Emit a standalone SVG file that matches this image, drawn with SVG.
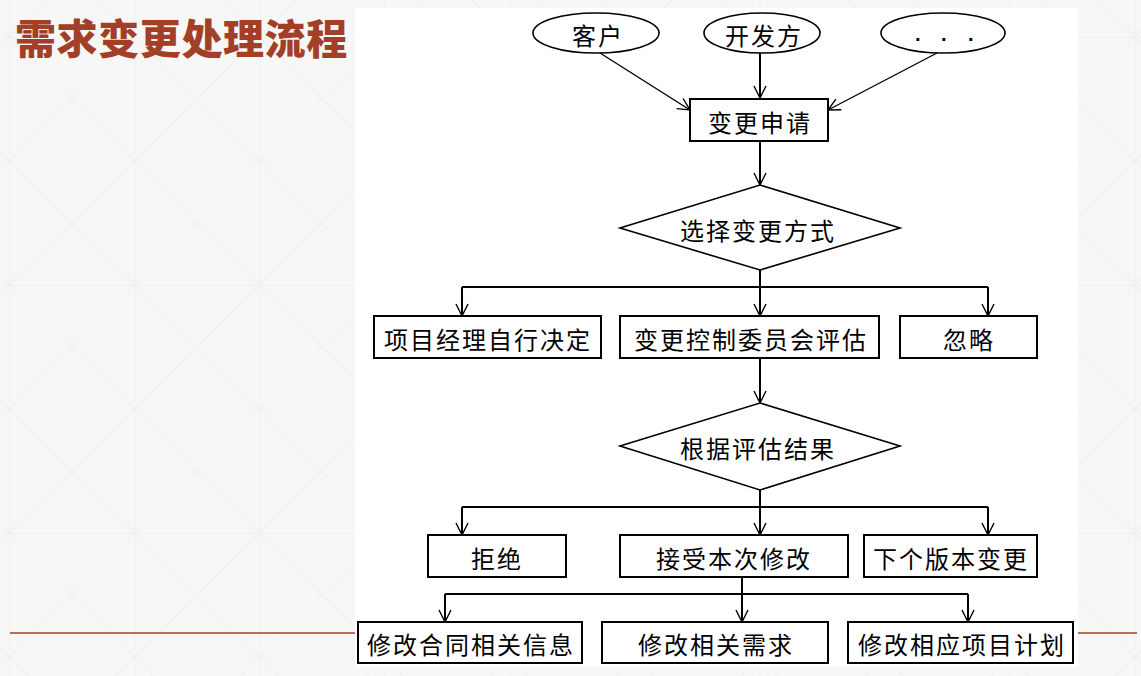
<svg xmlns="http://www.w3.org/2000/svg" width="1141" height="676" viewBox="0 0 1141 676">
<style>
.box{fill:#fff;stroke:#000;stroke-width:2}
.ell{fill:#fff;stroke:#000;stroke-width:1.6}
.dia{fill:#fff;stroke:#000;stroke-width:1.6}
.t{font-family:"Noto Sans CJK SC","Noto Sans",sans-serif;font-size:24px;fill:#000;text-anchor:middle;dominant-baseline:central;letter-spacing:2px}
.c{fill:none;stroke:#000;stroke-width:2}
.c1{fill:none;stroke:#000;stroke-width:1.4}
</style>
<defs>
<pattern id="grid" patternUnits="userSpaceOnUse" x="9.5" y="37" width="125" height="124">
<path d="M0,0H125M0,0V124M0,0L125,124M125,0L0,124" fill="none" stroke="#ebebeb" stroke-width="1"/>
</pattern>
<marker id="arr" markerWidth="14" markerHeight="14" refX="13" refY="7" orient="auto" markerUnits="userSpaceOnUse">
<path d="M1,1L13,7L1,13" fill="none" stroke="#000" stroke-width="1.4"/>
</marker>
</defs>
<rect width="1141" height="676" fill="#f7f7f7"/>
<rect width="1141" height="676" fill="url(#grid)"/>
<line x1="10" y1="633" x2="1137" y2="633" stroke="#a0402a" stroke-width="1.5"/>
<rect x="355" y="8" width="723" height="659" fill="#fff"/>
<g id="title">
<text x="15" y="54" font-family="'Noto Sans CJK SC',sans-serif" font-size="41" font-weight="900" letter-spacing="0.6" fill="#a33f27">需求变更处理流程</text>
</g>
<g id="connectors">
<path class="c1" d="M600,53L690,110" marker-end="url(#arr)"/>
<path class="c" d="M760,53V98" marker-end="url(#arr)"/>
<path class="c1" d="M937,53L828,110" marker-end="url(#arr)"/>
<path class="c" d="M760,141V185" marker-end="url(#arr)"/>
<path class="c" d="M760,270V287"/>
<path class="c" d="M462,287H988"/>
<path class="c" d="M462,287V316" marker-end="url(#arr)"/>
<path class="c" d="M760,287V316" marker-end="url(#arr)"/>
<path class="c" d="M988,287V316" marker-end="url(#arr)"/>
<path class="c" d="M760,358V403" marker-end="url(#arr)"/>
<path class="c" d="M760,490V507"/>
<path class="c" d="M462,507H988"/>
<path class="c" d="M462,507V535" marker-end="url(#arr)"/>
<path class="c" d="M760,507V535" marker-end="url(#arr)"/>
<path class="c" d="M988,507V535" marker-end="url(#arr)"/>
<path class="c" d="M742,577V594"/>
<path class="c" d="M445,594H968"/>
<path class="c" d="M445,594V622" marker-end="url(#arr)"/>
<path class="c" d="M742,594V622" marker-end="url(#arr)"/>
<path class="c" d="M968,594V622" marker-end="url(#arr)"/>
</g>
<g id="n-kehu"><ellipse class="ell" cx="596" cy="33" rx="63" ry="20"/><text class="t" x="598" y="34">客户</text></g>
<g id="n-kaifa"><ellipse class="ell" cx="762" cy="33" rx="58" ry="20"/><text class="t" x="764" y="34">开发方</text></g>
<g id="n-etc"><ellipse class="ell" cx="943" cy="33" rx="62" ry="20"/><text x="915 941 968" y="41" font-family="'Liberation Sans',sans-serif" font-size="20" font-weight="bold" fill="#000">...</text></g>
<g id="n-shenqing"><rect class="box" x="690" y="99" width="138" height="42"/><text class="t" x="760" y="121">变更申请</text></g>
<g id="n-fangshi"><polygon class="dia" points="760,185 900,228 760,270 620,228"/><text class="t" x="758" y="229">选择变更方式</text></g>
<g id="n-xmjl"><rect class="box" x="374" y="316" width="227" height="42"/><text class="t" x="488" y="338">项目经理自行决定</text></g>
<g id="n-ccb"><rect class="box" x="620" y="316" width="259" height="42"/><text class="t" x="751" y="338">变更控制委员会评估</text></g>
<g id="n-hulue"><rect class="box" x="900" y="316" width="137" height="42"/><text class="t" x="969" y="338">忽略</text></g>
<g id="n-jieguo"><polygon class="dia" points="760,403 900,446 760,490 620,446"/><text class="t" x="758" y="447">根据评估结果</text></g>
<g id="n-jujue"><rect class="box" x="428" y="535" width="138" height="42"/><text class="t" x="497" y="557">拒绝</text></g>
<g id="n-jieshou"><rect class="box" x="620" y="535" width="228" height="42"/><text class="t" x="734" y="557">接受本次修改</text></g>
<g id="n-xiage"><rect class="box" x="864" y="535" width="173" height="42"/><text class="t" x="951" y="557">下个版本变更</text></g>
<g id="n-hetong"><rect class="box" x="358" y="622" width="224" height="41"/><text class="t" x="471" y="643">修改合同相关信息</text></g>
<g id="n-xuqiu"><rect class="box" x="602" y="622" width="226" height="41"/><text class="t" x="716" y="643">修改相关需求</text></g>
<g id="n-jihua"><rect class="box" x="848" y="622" width="225" height="41"/><text class="t" x="962" y="643">修改相应项目计划</text></g>
</svg>
